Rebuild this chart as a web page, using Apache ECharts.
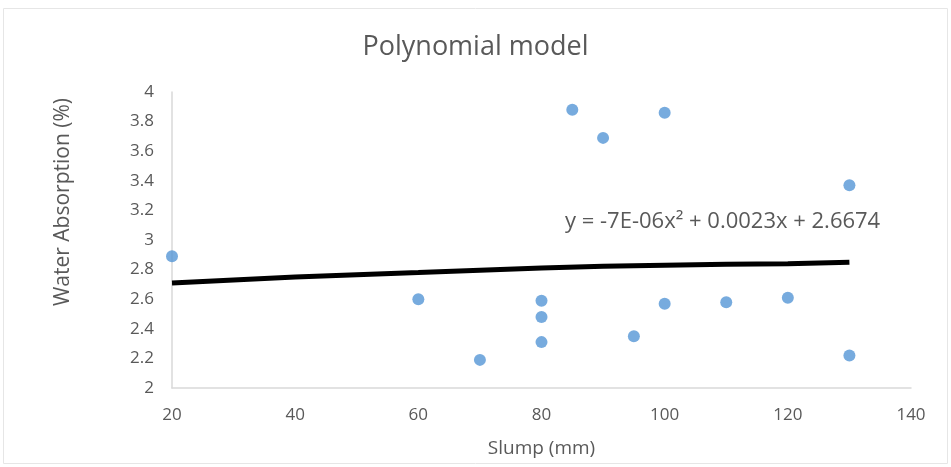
<!DOCTYPE html>
<html>
<head>
<meta charset="utf-8">
<script src="https://cdn.jsdelivr.net/npm/echarts@6/dist/echarts.min.js"></script>
<style>
  html, body { margin: 0; padding: 0; background: #fff; }
  #chart { width: 951px; height: 467px; }
</style>
</head>
<body>
<div id="chart"></div>
<script>
// slump (mm) vs water absorption (%)
const slump = [20, 60, 70, 80, 80, 80, 85, 90, 95, 100, 100, 110, 120, 130, 130];
const absorption = [2.89, 2.60, 2.19, 2.59, 2.48, 2.31, 3.88, 3.69, 2.35, 3.86, 2.57, 2.58, 2.61, 3.37, 2.22];

// trendline
const trendX = [20, 40, 60, 80, 100, 120, 130];
const trendY = [2.71, 2.75, 2.78, 2.81, 2.83, 2.84, 2.85];

const xTicks = [20, 40, 60, 80, 100, 120, 140];
const yTicks = [2, 2.2, 2.4, 2.6, 2.8, 3, 3.2, 3.4, 3.6, 3.8, 4];

const equation = 'y = -7E-06x² + 0.0023x + 2.6674';

const font = 'Open Sans';
const textColor = '#595959';

const chart = echarts.init(document.getElementById('chart'));

chart.setOption({
  backgroundColor: '#fff',
  animation: false,
  title: {
    text: 'Polynomial model',
    left: 'center',
    top: 29,
    textStyle: { fontFamily: font, fontSize: 27, fontWeight: 'normal', color: textColor },
  },
  grid: { left: 172, right: 40, top: 92, bottom: 79 },
  xAxis: {
    type: 'value',
    min: xTicks[0],
    max: xTicks[xTicks.length - 1],
    interval: 20,
    name: 'Slump (mm)',
    nameLocation: 'middle',
    nameGap: 51,
    nameTextStyle: { fontFamily: font, fontSize: 19, color: textColor },
    axisLine: { show: true, lineStyle: { color: '#d9d9d9', width: 1.5 } },
    axisTick: { show: false },
    splitLine: { show: false },
    axisLabel: { fontFamily: font, fontSize: 17, color: textColor, margin: 19 },
  },
  yAxis: {
    type: 'value',
    min: yTicks[0],
    max: yTicks[yTicks.length - 1],
    interval: 0.2,
    axisLine: { show: true, lineStyle: { color: '#d9d9d9', width: 1.5 } },
    axisTick: { show: false },
    splitLine: { show: false },
    axisLabel: {
      fontFamily: font,
      fontSize: 17,
      color: textColor,
      margin: 18,
      formatter: (v) => String(Math.round(v * 10) / 10),
    },
  },
  series: [
    {
      name: 'trend',
      type: 'line',
      smooth: true,
      showSymbol: false,
      data: trendX.map((x, i) => [x, trendY[i]]),
      lineStyle: { color: '#000', width: 5 },
      z: 2,
    },
    {
      name: 'data',
      type: 'scatter',
      symbolSize: 12,
      data: slump.map((x, i) => [x, absorption[i]]),
      itemStyle: { color: '#5596d6' },
      z: 3,
    },
  ],
  graphic: [
    {
      type: 'rect',
      shape: { x: 3.5, y: 8.5, width: 944, height: 455 },
      style: { fill: 'none', stroke: '#e6e6e6', lineWidth: 1 },
      silent: true,
    },
    {
      // y axis title sits above the middle of the axis, as in the source
      type: 'text',
      x: 63,
      y: 202,
      rotation: Math.PI / 2,
      style: {
        text: 'Water Absorption (%)',
        fontFamily: font,
        fontSize: 21,
        fill: textColor,
        align: 'center',
        verticalAlign: 'middle',
      },
    },
    {
      type: 'text',
      left: 565,
      top: 211,
      style: { text: equation, fontFamily: font, fontSize: 22, fill: textColor },
    },
  ],
});
</script>
</body>
</html>
